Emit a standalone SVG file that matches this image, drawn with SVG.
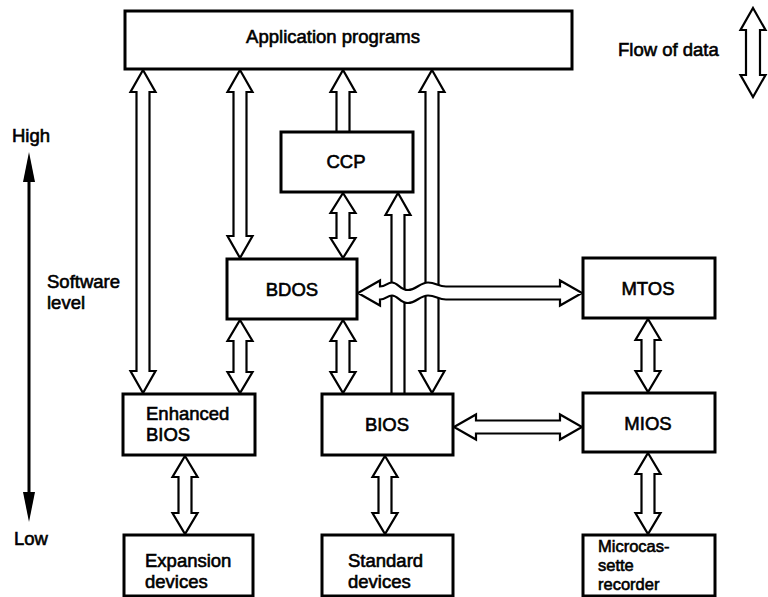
<svg xmlns="http://www.w3.org/2000/svg" width="768" height="597" viewBox="0 0 768 597">
<style>
.box{fill:#fff;stroke:#000;stroke-width:3}
.arr{fill:#fff;stroke:#000;stroke-width:2.2;stroke-linejoin:miter}
text{font-family:"Liberation Sans",Arial,sans-serif;font-size:18.5px;fill:#000;stroke:#000;stroke-width:0.6}
.c{text-anchor:middle}
.sm{font-size:16.5px}
</style>
<rect width="768" height="597" fill="#fff"/>
<g id="connectors">
<path class="arr" d="M143,70 L155.5,92 L149.5,92 L149.5,371 L155.5,371 L143,393 L130.5,371 L136.5,371 L136.5,92 L130.5,92 Z"/>
<path class="arr" d="M240,70 L252.5,92 L246.5,92 L246.5,236 L252.5,236 L240,258 L227.5,236 L233.5,236 L233.5,92 L227.5,92 Z"/>
<path class="arr" d="M349.5,132 L349.5,92 L355.5,92 L343,70 L330.5,92 L336.5,92 L336.5,132"/>
<path class="arr" d="M432,70 L444.5,92 L438.5,92 L438.5,371 L444.5,371 L432,393 L419.5,371 L425.5,371 L425.5,92 L419.5,92 Z"/>
<path class="arr" d="M343,193 L355.5,213 L349.5,213 L349.5,238 L355.5,238 L343,258 L330.5,238 L336.5,238 L336.5,213 L330.5,213 Z"/>
<path class="arr" d="M404.5,394 L404.5,215 L410.5,215 L398,193 L385.5,215 L391.5,215 L391.5,394"/>
<path class="arr" d="M240,320 L252.5,341 L246.5,341 L246.5,372 L252.5,372 L240,393 L227.5,372 L233.5,372 L233.5,341 L227.5,341 Z"/>
<path class="arr" d="M343,320 L355.5,341 L349.5,341 L349.5,372 L355.5,372 L343,393 L330.5,372 L336.5,372 L336.5,341 L330.5,341 Z"/>
<path class="arr" d="M358,293 L380,280.5 L380,286.5 C386,286.5 387,282.5 392,282.5 C398,282.5 400,290 408,290 C416,290 420,282.5 428,282.5 C436,282.5 438,286.5 446,286.5 L560,286.5 L560,280.5 L582,293 L560,305.5 L560,299.5 L446,299.5 C438,299.5 436,295.5 428,295.5 C420,295.5 416,303 408,303 C400,303 398,295.5 392,295.5 C387,295.5 386,299.5 380,299.5 L380,305.5 Z"/>
<path class="arr" d="M648,319 L660.5,340 L654.5,340 L654.5,371 L660.5,371 L648,392 L635.5,371 L641.5,371 L641.5,340 L635.5,340 Z"/>
<path class="arr" d="M454,427 L476,414.5 L476,420.5 L560,420.5 L560,414.5 L582,427 L560,439.5 L560,433.5 L476,433.5 L476,439.5 Z"/>
<path class="arr" d="M185,456 L197.5,477 L191.5,477 L191.5,513 L197.5,513 L185,534 L172.5,513 L178.5,513 L178.5,477 L172.5,477 Z"/>
<path class="arr" d="M385,456 L397.5,477 L391.5,477 L391.5,513 L397.5,513 L385,534 L372.5,513 L378.5,513 L378.5,477 L372.5,477 Z"/>
<path class="arr" d="M648,453 L660.5,474 L654.5,474 L654.5,513 L660.5,513 L648,534 L635.5,513 L641.5,513 L641.5,474 L635.5,474 Z"/>
</g>
<g id="app"><rect class="box" x="125" y="11" width="447" height="58"/><text class="c" x="333" y="43">Application programs</text></g>
<g id="ccp"><rect class="box" x="281" y="132" width="132" height="60"/><text class="c" x="346" y="168">CCP</text></g>
<g id="bdos"><rect class="box" x="227" y="259" width="130" height="60"/><text class="c" x="292" y="296">BDOS</text></g>
<g id="mtos"><rect class="box" x="583" y="258" width="132" height="60"/><text class="c" x="648" y="295">MTOS</text></g>
<g id="ebios"><rect class="box" x="123" y="394" width="132" height="61"/><text x="146" y="420">Enhanced</text><text x="146" y="441">BIOS</text></g>
<g id="bios"><rect class="box" x="322" y="394" width="131" height="61"/><text class="c" x="387" y="431">BIOS</text></g>
<g id="mios"><rect class="box" x="583" y="393" width="132" height="59"/><text class="c" x="648" y="430">MIOS</text></g>
<g id="expansion"><rect class="box" x="124" y="535" width="129" height="61"/><text x="145" y="567">Expansion</text><text x="145" y="588">devices</text></g>
<g id="standard"><rect class="box" x="322" y="535" width="131" height="61"/><text x="348" y="567">Standard</text><text x="348" y="588">devices</text></g>
<g id="micro"><rect class="box" x="583" y="535" width="132" height="61"/><text class="sm" x="598" y="552">Microcas-</text><text class="sm" x="598" y="571">sette</text><text class="sm" x="598" y="590">recorder</text></g>
<g id="legend"><text x="618" y="56">Flow of data</text><path class="arr" d="M753,8 L765.5,30 L760,30 L760,75 L765.5,75 L753,97 L740.5,75 L746,75 L746,30 L740.5,30 Z"/></g>
<g id="level">
<line x1="29" y1="178" x2="29" y2="496" stroke="#000" stroke-width="3"/>
<polygon points="29,152 35,182 23,182" fill="#000"/>
<polygon points="29,522 35,492 23,492" fill="#000"/>
<text class="c" x="31" y="142">High</text>
<text class="c" x="31" y="545">Low</text>
<text x="47" y="288">Software</text>
<text x="47" y="309">level</text>
</g>
</svg>
